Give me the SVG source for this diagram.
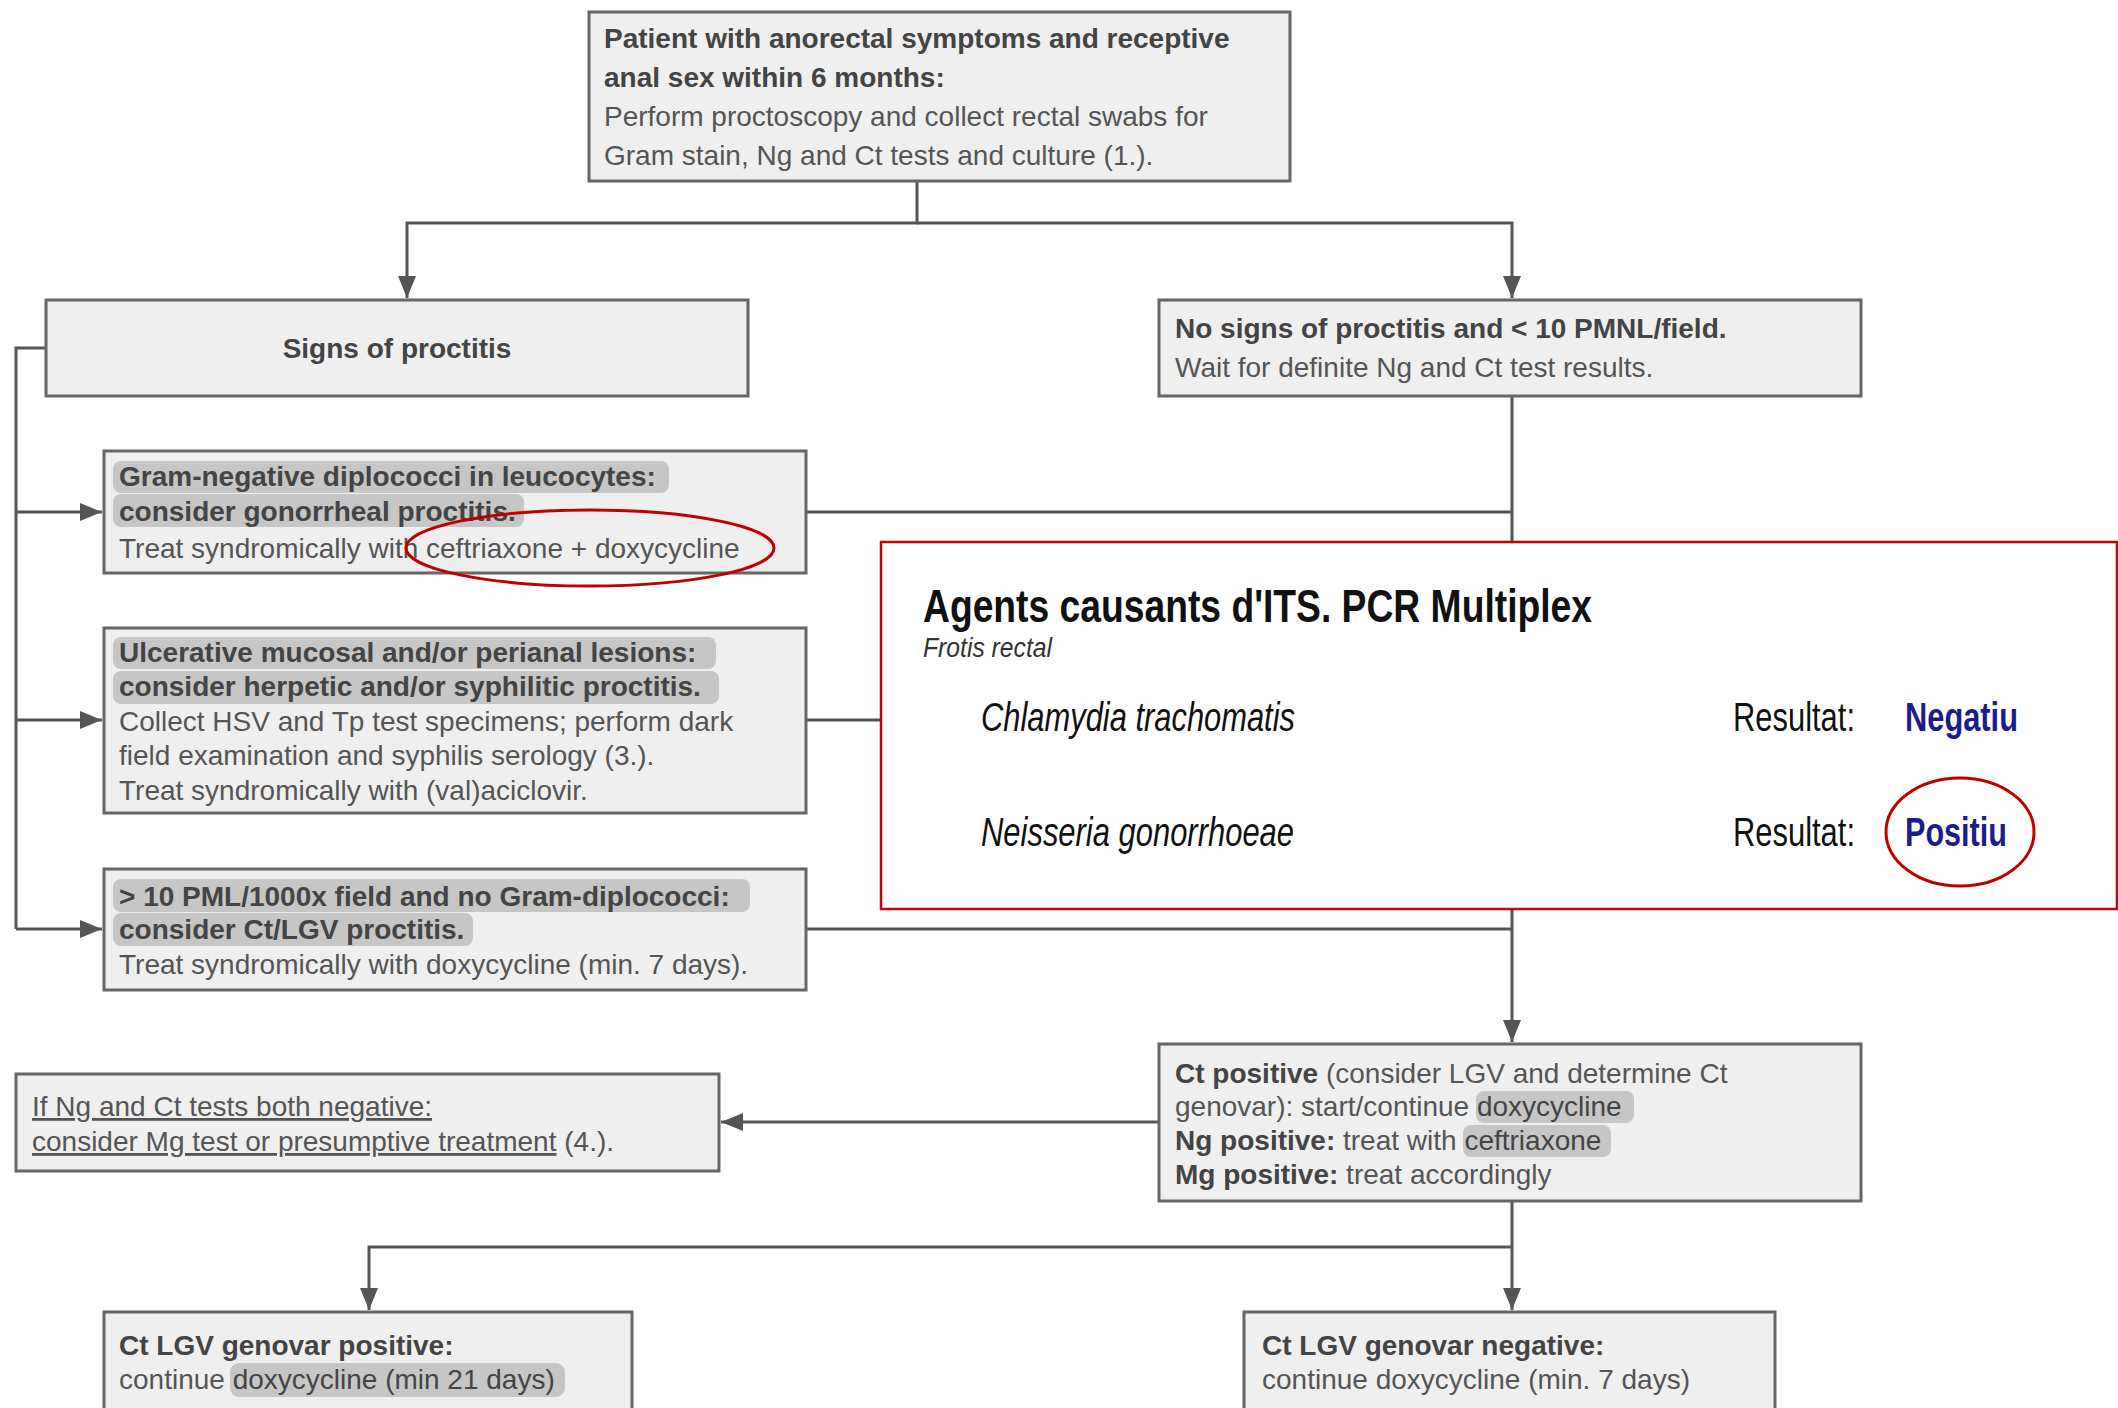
<svg xmlns="http://www.w3.org/2000/svg" width="2118" height="1408" viewBox="0 0 2118 1408">
<defs>
<marker id="arr" viewBox="0 0 22 18" refX="22" refY="9" markerWidth="22" markerHeight="18" markerUnits="userSpaceOnUse" orient="auto">
<path d="M0,0 L22,9 L0,18 Z" fill="#555"/>
</marker>
</defs>
<style>
.box{fill:#efefef;stroke:#666;stroke-width:3}
.t{font-family:"Liberation Sans",Arial,Helvetica,sans-serif;font-size:28px;fill:#555}
.b{font-weight:bold;fill:#444}
.hl{fill:#c6c6c6}
.ln{fill:none;stroke:#555;stroke-width:3}
.pcr{font-family:"Liberation Sans",Arial,sans-serif;fill:#111}
.it{font-style:italic}
.sub{fill:#333}
.res{font-weight:bold;fill:#1c1c8c}
.u{text-decoration:underline}
.red{fill:none;stroke:#c00000;stroke-width:3}
</style>
<rect width="2118" height="1408" fill="#fff"/>

<g id="connectors">
<path class="ln" d="M917,181 V223 H407 V298" marker-end="url(#arr)"/>
<path class="ln" d="M917,223 H1512 V298" marker-end="url(#arr)"/>
<path class="ln" d="M46,348 H16 V929"/>
<path class="ln" d="M16,512 H102" marker-end="url(#arr)"/>
<path class="ln" d="M16,720 H102" marker-end="url(#arr)"/>
<path class="ln" d="M16,929 H102" marker-end="url(#arr)"/>
<path class="ln" d="M806,512 H1512"/>
<path class="ln" d="M806,720 H881"/>
<path class="ln" d="M806,929 H1512"/>
<path class="ln" d="M1512,396 V1042" marker-end="url(#arr)"/>
<path class="ln" d="M1159,1122 H721" marker-end="url(#arr)"/>
<path class="ln" d="M1512,1201 V1310" marker-end="url(#arr)"/>
<path class="ln" d="M1512,1247 H369 V1310" marker-end="url(#arr)"/>
</g>

<g id="n-top">
<rect class="box" x="589" y="12" width="701" height="169"/>
<text class="t b" x="604" y="48">Patient with anorectal symptoms and receptive</text>
<text class="t b" x="604" y="87">anal sex within 6 months:</text>
<text class="t" x="604" y="126">Perform proctoscopy and collect rectal swabs for</text>
<text class="t" x="604" y="165">Gram stain, Ng and Ct tests and culture (1.).</text>
</g>

<g id="n-signs">
<rect class="box" x="46" y="300" width="702" height="96"/>
<text class="t b" x="397" y="358" text-anchor="middle">Signs of proctitis</text>
</g>

<g id="n-nosigns">
<rect class="box" x="1159" y="300" width="702" height="96"/>
<text class="t b" x="1175" y="338">No signs of proctitis and &lt; 10 PMNL/field.</text>
<text class="t" x="1175" y="377">Wait for definite Ng and Ct test results.</text>
</g>

<g id="n-gram">
<rect class="box" x="104" y="451" width="702" height="122"/>
<rect class="hl" x="113" y="461" width="556" height="32" rx="8"/>
<rect class="hl" x="113" y="494" width="411" height="33" rx="8"/>
<text class="t b" x="119" y="486">Gram-negative diplococci in leucocytes:</text>
<text class="t b" x="119" y="521">consider gonorrheal proctitis.</text>
<text class="t" x="119" y="558">Treat syndromically with ceftriaxone + doxycycline</text>
<ellipse class="red" cx="590" cy="548" rx="184" ry="38"/>
</g>

<g id="n-ulcer">
<rect class="box" x="104" y="628" width="702" height="185"/>
<rect class="hl" x="113" y="637" width="603" height="32" rx="8"/>
<rect class="hl" x="113" y="671" width="606" height="33" rx="8"/>
<text class="t b" x="119" y="662">Ulcerative mucosal and/or perianal lesions:</text>
<text class="t b" x="119" y="696">consider herpetic and/or syphilitic proctitis.</text>
<text class="t" x="119" y="731">Collect HSV and Tp test specimens; perform dark</text>
<text class="t" x="119" y="765">field examination and syphilis serology (3.).</text>
<text class="t" x="119" y="800">Treat syndromically with (val)aciclovir.</text>
</g>

<g id="n-pml">
<rect class="box" x="104" y="869" width="702" height="121"/>
<rect class="hl" x="113" y="879" width="637" height="33" rx="8"/>
<rect class="hl" x="113" y="913" width="360" height="33" rx="8"/>
<text class="t b" x="119" y="906">&gt; 10 PML/1000x field and no Gram-diplococci:</text>
<text class="t b" x="119" y="939">consider Ct/LGV proctitis.</text>
<text class="t" x="119" y="974">Treat syndromically with doxycycline (min. 7 days).</text>
</g>

<g id="n-pcr">
<rect x="881" y="542" width="1236" height="367" fill="#fff" stroke="#cc0000" stroke-width="2.5"/>
<text class="pcr" x="923" y="622" font-size="46" font-weight="bold" textLength="669" lengthAdjust="spacingAndGlyphs">Agents causants d'ITS. PCR Multiplex</text>
<text class="pcr it sub" x="923" y="657" font-size="27" textLength="129" lengthAdjust="spacingAndGlyphs">Frotis rectal</text>
<text class="pcr it" x="981" y="731" font-size="40" textLength="314" lengthAdjust="spacingAndGlyphs">Chlamydia trachomatis</text>
<text class="pcr it" x="981" y="846" font-size="40" textLength="313" lengthAdjust="spacingAndGlyphs">Neisseria gonorrhoeae</text>
<text class="pcr" x="1733" y="731" font-size="40" textLength="122" lengthAdjust="spacingAndGlyphs">Resultat:</text>
<text class="pcr" x="1733" y="846" font-size="40" textLength="122" lengthAdjust="spacingAndGlyphs">Resultat:</text>
<text class="pcr res" x="1905" y="731" font-size="40" textLength="113" lengthAdjust="spacingAndGlyphs">Negatiu</text>
<text class="pcr res" x="1905" y="846" font-size="40" textLength="102" lengthAdjust="spacingAndGlyphs">Positiu</text>
<ellipse class="red" cx="1960" cy="832" rx="74" ry="54"/>
</g>

<g id="n-ctpos">
<rect class="box" x="1159" y="1044" width="702" height="157"/>
<rect class="hl" x="1476" y="1091" width="158" height="32" rx="8"/>
<rect class="hl" x="1463" y="1125" width="148" height="32" rx="8"/>
<text class="t" x="1175" y="1083"><tspan class="b">Ct positive</tspan> (consider LGV and determine Ct</text>
<text class="t" x="1175" y="1116">genovar): start/continue <tspan style="fill:#444">doxycycline</tspan></text>
<text class="t" x="1175" y="1150"><tspan class="b">Ng positive:</tspan> treat with <tspan style="fill:#444">ceftriaxone</tspan></text>
<text class="t" x="1175" y="1184"><tspan class="b">Mg positive:</tspan> treat accordingly</text>
</g>

<g id="n-neg">
<rect class="box" x="16" y="1074" width="703" height="97"/>
<text class="t" x="32" y="1116"><tspan class="u">If Ng and Ct tests both negative:</tspan></text>
<text class="t" x="32" y="1151"><tspan class="u">consider Mg test or presumptive treatment</tspan> (4.).</text>
</g>

<g id="n-lgvpos">
<rect class="box" x="104" y="1312" width="528" height="110"/>
<rect class="hl" x="230" y="1363" width="335" height="34" rx="9"/>
<text class="t b" x="119" y="1355">Ct LGV genovar positive:</text>
<text class="t" x="119" y="1389">continue <tspan style="fill:#444">doxycycline (min 21 days)</tspan></text>
</g>

<g id="n-lgvneg">
<rect class="box" x="1244" y="1312" width="531" height="110"/>
<text class="t b" x="1262" y="1355">Ct LGV genovar negative:</text>
<text class="t" x="1262" y="1389">continue doxycycline (min. 7 days)</text>
</g>
</svg>
